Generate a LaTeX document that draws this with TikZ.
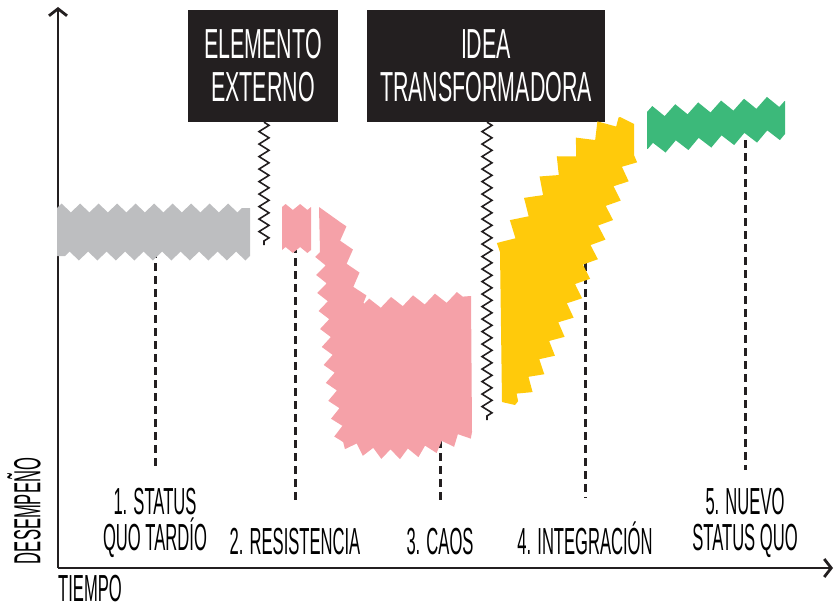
\documentclass[tikz,border=0pt]{standalone}
\usepackage{fontspec}
\setmainfont{Liberation Sans}[FakeStretch=0.44]
\newfontfamily\boxfont{Liberation Sans}[FakeStretch=0.51]
\usepackage{xcolor}
\usetikzlibrary{positioning, decorations.pathmorphing}
\usetikzlibrary{arrows.meta}
\tikzset{>={Straight Barb[length=7pt,width=18pt]}}
\definecolor{statusgray}{HTML}{BDBEC0}
\definecolor{chaospink}{HTML}{F5A1A8}
\definecolor{integyellow}{HTML}{FFCA0B}
\definecolor{nuevogreen}{HTML}{3CB97A}
\definecolor{boxblack}{HTML}{231F20}

\begin{document}
\begin{tikzpicture}[x=1pt, y=-1pt, stagelabel/.style={align=center, inner sep=0pt, font=\fontsize{37.7}{36}\selectfont}, blackbox/.style={fill=boxblack, text=white, align=center, inner sep=0pt, minimum height=112, font=\boxfont\fontsize{42}{43}\selectfont}, guide/.style={draw=boxblack, line width=3pt, dash pattern=on 8pt off 5pt}, axis/.style={draw=boxblack, line width=2.8pt, ->}, breakline/.style={draw=boxblack, line width=1.6pt, decorate, decoration={zigzag, segment length=12.5pt, amplitude=5pt}}]
    \useasboundingbox (0,0) rectangle (835,610);

    %Nodes
    \node[blackbox, minimum width=150](extbox) at (263,66){ELEMENTO\\EXTERNO};
    \node[blackbox, minimum width=238](ideabox) at (486,66){IDEA\\TRANSFORMADORA};
    \node[stagelabel](lblone) at (155,523){1. STATUS\\QUO TARDÍO};
    \node[stagelabel](lbltwo) at (295,542){2. RESISTENCIA};
    \node[stagelabel](lblthree) at (440,542){3. CAOS};
    \node[stagelabel](lblfour) at (585,538){4. INTEGRACIÓN};
    \node[stagelabel](lblfive) at (745,523){5. NUEVO\\STATUS QUO};
    \node[stagelabel, rotate=90](ylabel) at (24,511){DESEMPEÑO};
    \node[stagelabel](xlabel) at (90,589){TIEMPO};
    \coordinate (origin) at (58,568);
    \coordinate (ytip) at (58,7);
    \coordinate (xtip) at (833,568);
    \coordinate (extend) at (264,245);
    \coordinate (ideaend) at (487,420);
    \coordinate (grayfoot) at (155,250);
    \coordinate (resfoot) at (295,245);
    \coordinate (caosfoot) at (440,440);
    \coordinate (integfoot) at (585,250);
    \coordinate (nuevofoot) at (745,140);

    %Lines
    \draw[guide, shorten >=18pt] (grayfoot) -- (lblone.north);
    \draw[guide, shorten >=26pt] (resfoot) -- (lbltwo.north);
    \draw[guide, shorten >=26pt] (caosfoot) -- (lblthree.north);
    \draw[guide, shorten >=24pt] (integfoot) -- (lblfour.north);
    \draw[guide, shorten >=18pt] (nuevofoot) -- (lblfive.north);
    \draw[breakline] (extbox.south -| extend) -- (extend);
    \draw[breakline] (ideabox.south -| ideaend) -- (ideaend);
    \draw[axis] (origin) -- (ytip);
    \draw[axis] (origin) -- (xtip);

    %Stages
    \fill[statusgray] (57,208) decorate[decoration={zigzag, segment length=18.5pt, amplitude=4.5pt}]{-- (250,208)} -- (250,256) decorate[decoration={zigzag, segment length=18.5pt, amplitude=4.5pt}]{-- (57,256)} -- cycle;
    \fill[chaospink] (282,207) decorate[decoration={zigzag, segment length=14.5pt, amplitude=3pt}]{-- (311,207)} -- (311,250) decorate[decoration={zigzag, segment length=14.5pt, amplitude=3pt}]{-- (282,250)} -- cycle;
    \fill[chaospink] (319,207) -- (340,222) decorate[decoration={zigzag, segment length=24pt, amplitude=5pt}]{.. controls (348,250) and (356,280) .. (364,304)} decorate[decoration={zigzag, segment length=22pt, amplitude=5pt}]{-- (471,296)} -- (472,432) decorate[decoration={zigzag, segment length=18pt, amplitude=5pt}]{.. controls (430,458) and (370,462) .. (340,440)} decorate[decoration={zigzag, segment length=18pt, amplitude=5pt}]{.. controls (328,380) and (322,300) .. (320,252)} -- cycle;
    \fill[integyellow] (500,252) decorate[decoration={zigzag, segment length=26pt, amplitude=7pt}]{.. controls (530,195) and (570,140) .. (620,117)} -- (634,124) -- (634,155) decorate[decoration={zigzag, segment length=21pt, amplitude=6pt}]{.. controls (600,225) and (570,340) .. (515,405)} -- (502,402) -- cycle;
    \fill[nuevogreen] (647,112) decorate[decoration={zigzag, segment length=23pt, amplitude=5.5pt}]{-- (785,101)} -- (785,134) decorate[decoration={zigzag, segment length=23pt, amplitude=5.5pt}]{-- (647,149)} -- cycle;

\end{tikzpicture}
\end{document}
